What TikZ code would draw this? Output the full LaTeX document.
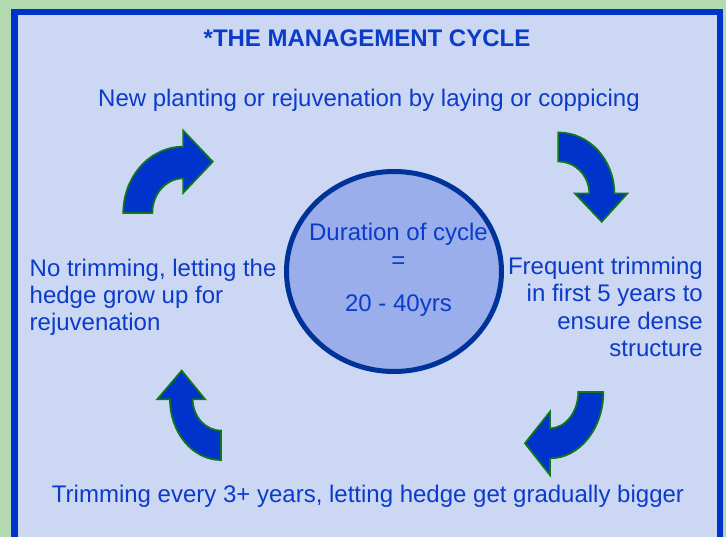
\documentclass[tikz,border=0pt]{standalone}
\usepackage{fontspec}
\setmainfont{Liberation Sans}
\usetikzlibrary{shapes.geometric}
\definecolor{pagegreen}{HTML}{B2D9B0}
\definecolor{panelfill}{HTML}{CCD7F4}
\definecolor{frameblue}{HTML}{0033CC}
\definecolor{textblue}{HTML}{0B3BC9}
\definecolor{hubfill}{HTML}{99AEEA}
\definecolor{hubline}{HTML}{003399}
\definecolor{arrowfill}{HTML}{0033CC}
\definecolor{arrowline}{HTML}{11751F}
\begin{document}
\begin{tikzpicture}[x=1pt,y=-1pt,
  labeltext/.style={text=textblue,inner sep=0pt,font=\fontsize{24}{27.4}\selectfont},
  cyclearrow/.style={fill=arrowfill,draw=arrowline,line width=1.8pt,line join=miter},
  hub/.style={ellipse,draw=hubline,fill=hubfill,line width=5pt,
    minimum width=215pt,minimum height=200pt,inner sep=0pt}]
% page and framed panel
\fill[pagegreen] (0,0) rectangle (726,537);
\useasboundingbox (0,0) rectangle (726,537);
\draw[frameblue,fill=panelfill,line width=6.5pt] (14.5,12) rectangle (720,560);

% heading
\node[labeltext,font=\fontsize{24}{27.4}\selectfont\bfseries,anchor=base] (title) at (367,46.7) {*THE MANAGEMENT CYCLE};

% central hub (multi-line nodes are placed by the baseline of their last line)
\node[hub] (cycle) at (394,271.5) {};
\node[labeltext,align=center,anchor=base] (duration) at (398.5,311.7)
  {Duration of cycle\\=\\[16pt]20 - 40yrs};

% stages of the cycle
\node[labeltext,anchor=base] (stageone) at (369,106.7)
  {New planting or rejuvenation by laying or coppicing};
\node[labeltext,align=right,anchor=base east] (stagetwo) at (703,356.7)
  {Frequent trimming\\in first 5 years to\\ensure dense\\structure};
\node[labeltext,anchor=base] (stagethree) at (368,502)
  {Trimming every 3+ years, letting hedge get gradually bigger};
\node[labeltext,align=left,anchor=base west] (stagefour) at (29.5,331)
  {No trimming, letting the\\hedge grow up for\\rejuvenation};

% curved block arrows
\draw[cyclearrow] (123.3,213) arc[start angle=180,end angle=270,x radius=60,y radius=66.3]
  -- (183.3,130.7) -- (212.7,161.7) -- (183.3,192.7) -- (183.3,178.3)
  arc[start angle=270,end angle=180,x radius=31,y radius=34.7] -- cycle;
\draw[cyclearrow] (558.3,132.5) arc[start angle=270,end angle=360,x radius=56,y radius=61]
  -- (627.3,193.5) -- (601.7,221.7) -- (575,193.5) -- (589.3,193.5)
  arc[start angle=360,end angle=270,x radius=31,y radius=32] -- cycle;
\draw[cyclearrow] (603.3,392) arc[start angle=0,end angle=90,x radius=53.3,y radius=66.3]
  -- (550,475) -- (525,443.3) -- (550,411.7) -- (550,428.3)
  arc[start angle=90,end angle=0,x radius=28.3,y radius=36.3] -- cycle;
\draw[cyclearrow] (221,460) arc[start angle=90,end angle=180,x radius=51,y radius=60.7]
  -- (157.3,399.3) -- (181.7,370.7) -- (205,399.3) -- (192.7,399.3)
  arc[start angle=180,end angle=90,x radius=28.3,y radius=31.3] -- cycle;
\end{tikzpicture}
\end{document}
